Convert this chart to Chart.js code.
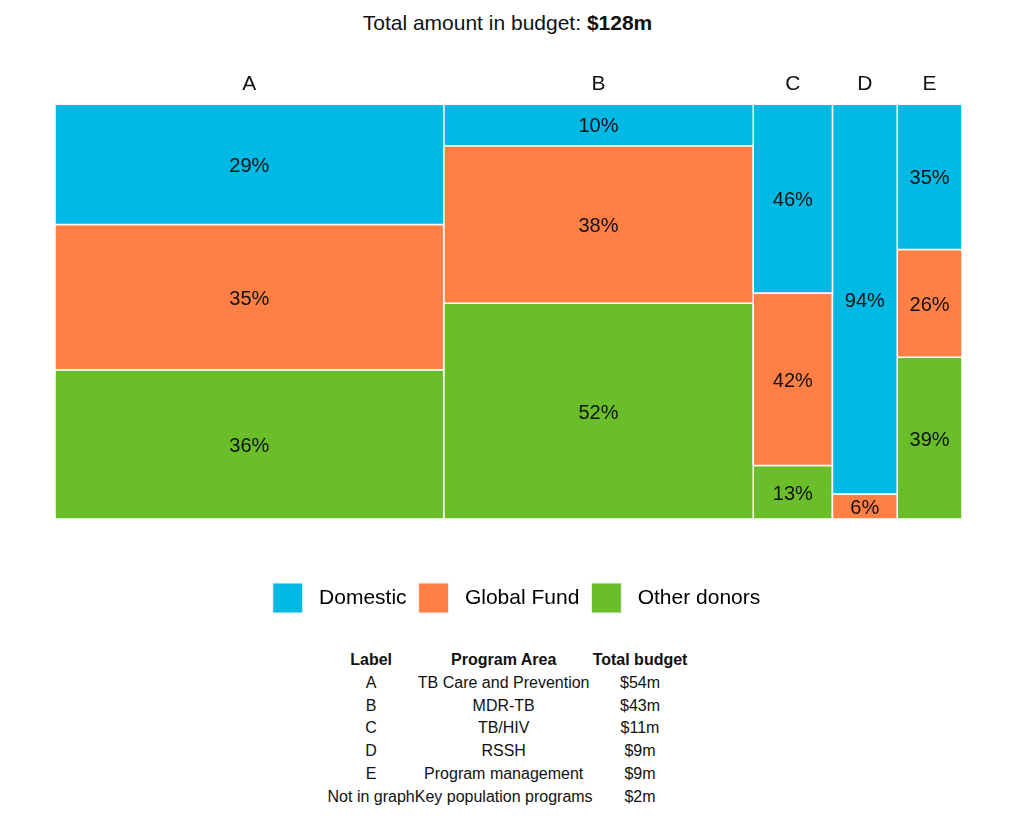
<!DOCTYPE html>
<html>
<head>
<meta charset="utf-8">
<script src="https://cdn.jsdelivr.net/npm/chart.js@4/dist/chart.umd.min.js"></script>
<style>
  html, body { margin: 0; padding: 0; background: #fff; width: 1015px; height: 820px; overflow: hidden; font-family: "Liberation Sans", Arial, sans-serif; color: #111; }
  #title { position: absolute; top: 10px; left: 0; width: 1015px; text-align: center; font-size: 21px; line-height: 26px; }
  #wrap { position: absolute; top: 0; left: 0; width: 1015px; height: 640px; }
  #tbl { position: absolute; top: 649px; left: 0; width: 1015px; }
  table { margin: 0 auto; border-collapse: collapse; font-size: 16px; }
  td, th { padding: 0; text-align: center; line-height: 22.8px; white-space: nowrap; }
  th { font-weight: bold; }
</style>
</head>
<body>
<div id="title">Total amount in budget: <b>$128m</b></div>
<div id="wrap"><canvas id="c" width="1015" height="640"></canvas></div>
<div id="tbl"></div>
<script>
const categories = ['A', 'B', 'C', 'D', 'E'];
const budgets = [54, 43, 11, 9, 9];
const domestic = [29, 10, 46, 94, 35];
const globalFund = [35, 38, 42, 6, 26];
const otherDonors = [36, 52, 13, 0, 39];
const seriesNames = ['Domestic', 'Global Fund', 'Other donors'];
const seriesColors = ['#00B9E4', '#FF7F45', '#6ABE2A'];

const tableHeader = ['Label', 'Program Area', 'Total budget'];
const tableLabels = ['A', 'B', 'C', 'D', 'E', 'Not in graph'];
const tableAreas = ['TB Care and Prevention', 'MDR-TB', 'TB/HIV', 'RSSH', 'Program management', 'Key population programs'];
const tableBudgets = ['$54m', '$43m', '$11m', '$9m', '$9m', '$2m'];

// table
(function () {
  let h = '<table><tr>' + tableHeader.map(t => '<th>' + t + '</th>').join('') + '</tr>';
  tableLabels.forEach((l, i) => {
    h += '<tr><td>' + l + '</td><td>' + tableAreas[i] + '</td><td>' + tableBudgets[i] + '</td></tr>';
  });
  h += '</table>';
  document.getElementById('tbl').innerHTML = h;
})();

const seriesValues = [domestic, globalFund, otherDonors];
const totalWidth = budgets.reduce((a, b) => a + b, 0);
const xStarts = [];
budgets.reduce((acc, b) => { xStarts.push(acc); return acc + b; }, 0);
const centers = budgets.map((b, i) => xStarts[i] + b / 2);

const datasets = [];
seriesValues.forEach((vals, s) => {
  categories.forEach((cat, i) => {
    const colTotal = seriesValues.reduce((a, sv) => a + sv[i], 0);
    let before = 0;
    for (let k = 0; k < s; k++) before += seriesValues[k][i];
    const v = vals[i];
    if (v <= 0) return;
    const yTop = 100 - before / colTotal * 100;
    const yBot = yTop - v / colTotal * 100;
    const x0 = xStarts[i], x1 = xStarts[i] + budgets[i];
    datasets.push({
      label: seriesNames[s] + ' ' + cat,
      pctText: v + '%',
      rect: { x0, x1, y0: yBot, y1: yTop },
      data: [{ x: x0, y: yBot }, { x: x1, y: yBot }, { x: x1, y: yTop }, { x: x0, y: yTop }, { x: x0, y: yBot }],
      showLine: true,
      fill: 'shape',
      backgroundColor: seriesColors[s],
      borderColor: '#ffffff',
      borderWidth: 1.5,
      pointRadius: 0,
      pointHoverRadius: 0,
      tension: 0,
      clip: false
    });
  });
});

const pctLabels = {
  id: 'pctLabels',
  afterDatasetsDraw(chart) {
    const { ctx, scales: { x, y } } = chart;
    ctx.save();
    ctx.font = '20px "Liberation Sans", Arial, sans-serif';
    ctx.fillStyle = '#111';
    ctx.textAlign = 'center';
    ctx.textBaseline = 'middle';
    chart.data.datasets.forEach(ds => {
      const r = ds.rect;
      ctx.fillText(ds.pctText, x.getPixelForValue((r.x0 + r.x1) / 2), y.getPixelForValue((r.y0 + r.y1) / 2) + 2);
    });
    ctx.restore();
  }
};

const legendShift = {
  id: 'legendShift',
  afterLayout(chart) {
    if (chart.legend) { chart.legend.left += 8; chart.legend.right += 8; }
  }
};

new Chart(document.getElementById('c'), {
  type: 'scatter',
  data: { datasets },
  plugins: [pctLabels, legendShift],
  options: {
    responsive: false,
    animation: false,
    events: [],
    layout: { padding: { left: 55, right: 53, top: 65, bottom: 17 } },
    plugins: {
      title: { display: false },
      tooltip: { enabled: false },
      legend: {
        position: 'bottom',
        labels: {
          boxWidth: 30,
          boxHeight: 30,
          padding: 12,
          color: '#111',
          font: { size: 21, family: '"Liberation Sans", Arial, sans-serif' },
          generateLabels: () => seriesNames.map((n, s) => ({
            text: ' ' + n, fillStyle: seriesColors[s], strokeStyle: '#f4f4f4', lineWidth: 1, hidden: false, datasetIndex: s
          }))
        }
      }
    },
    scales: {
      x: {
        type: 'linear',
        position: 'top',
        min: 0,
        max: totalWidth,
        grid: { display: false, drawTicks: false, tickLength: 0 },
        border: { display: false },
        afterBuildTicks: (scale) => { scale.ticks = centers.map(v => ({ value: v })); },
        ticks: {
          autoSkip: false,
          maxRotation: 0,
          padding: 7,
          color: '#111',
          font: { size: 21, family: '"Liberation Sans", Arial, sans-serif' },
          callback: (value) => {
            const i = centers.findIndex(c => Math.abs(c - value) < 1e-6);
            return i >= 0 ? categories[i] : '';
          }
        }
      },
      gap: {
        type: 'linear',
        position: 'bottom',
        axis: 'x',
        min: 0,
        max: totalWidth,
        grid: { display: false, drawTicks: false },
        border: { display: false },
        ticks: { display: false },
        afterFit: (scale) => { scale.height = 52; }
      },
      y: { type: 'linear', min: 0, max: 100, display: false }
    }
  }
});
</script>
</body>
</html>
